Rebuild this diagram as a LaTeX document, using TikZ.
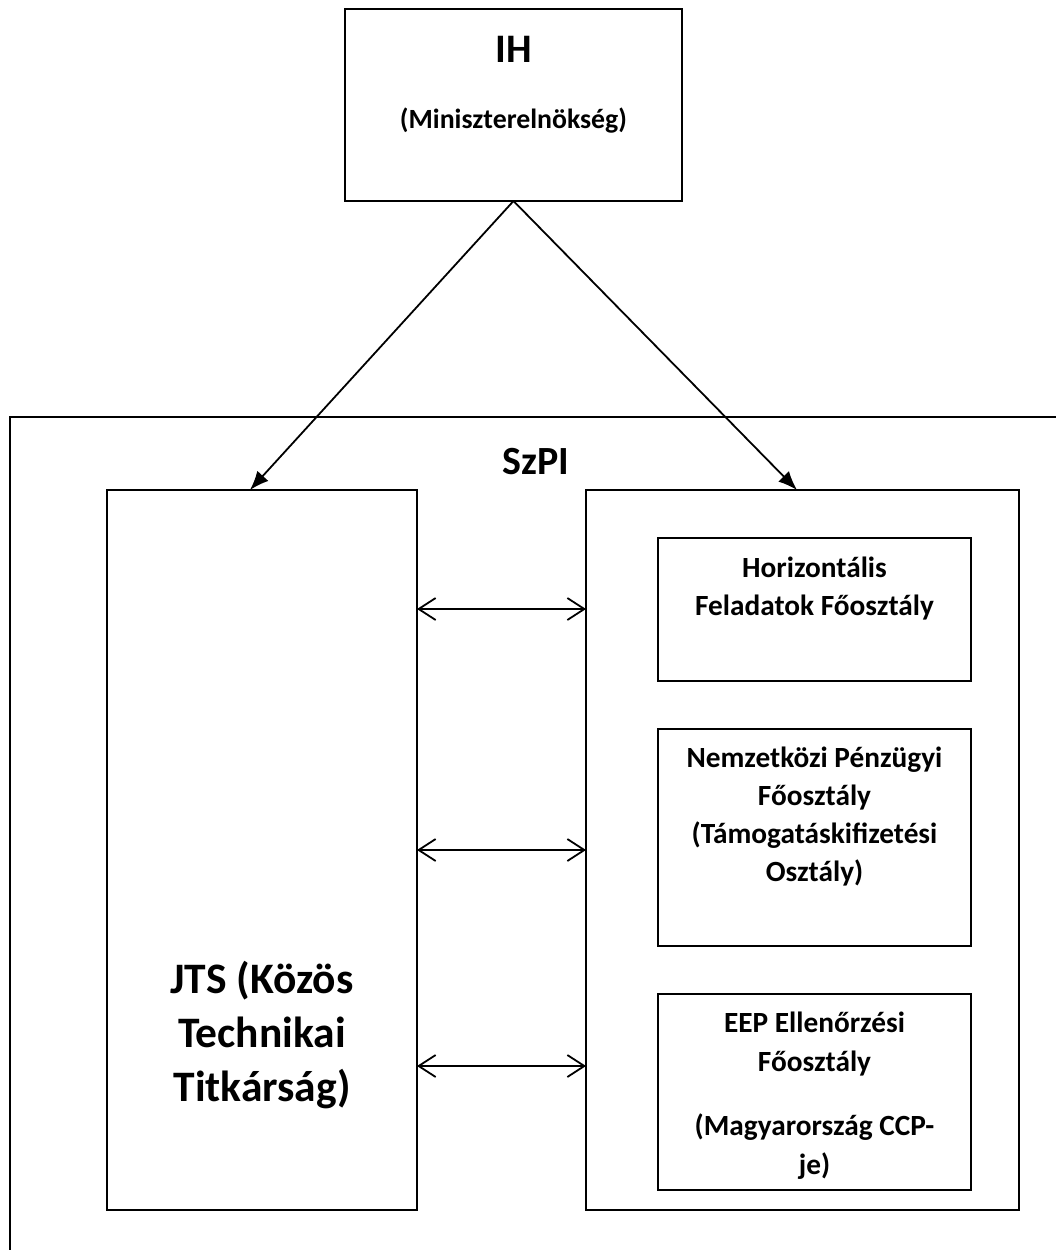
\documentclass[tikz,border=0pt]{standalone}
\usepackage{fontspec}
\setmainfont{Carlito}
\usetikzlibrary{arrows.meta,positioning}

\tikzset{
	box/.style={draw, line width=1.8pt, inner sep=0pt, outer sep=0pt},
	lbl/.style={anchor=base, align=center, font=\bfseries\fontsize{29.3}{38}\selectfont},
	down/.style={line width=1.8pt, -{Latex[length=19pt, width=15pt]}},
	both/.style={line width=1.8pt, {Straight Barb[length=17pt, width=22pt, line width=1.8pt]}-{Straight Barb[length=17pt, width=22pt, line width=1.8pt]}}
}

\begin{document}
\begin{tikzpicture}[x=1pt, y=-1pt]
	\useasboundingbox[fill=white] (0,0) rectangle (1056,1250);
	% SzPI frame, open to the right and bottom
	\draw[line width=1.8pt] (10,1270) -- (10,417) -- (1080,417);
	\node[lbl, font=\bfseries\fontsize{40}{48}\selectfont] (SzPI) at (536,474) {SzPI};

	\node[box, minimum width=337pt, minimum height=192pt] (IH) at (513.5,105) {};
	\node[lbl, font=\bfseries\fontsize{40.5}{50}\selectfont] (IHname) at (513.5,62) {IH};
	\node[lbl, font=\bfseries\fontsize{27.8}{38}\selectfont] (IHsub) at (513.5,128) {(Miniszterelnökség)};

	\node[box, minimum width=310pt, minimum height=720pt] (JTS) at (262,850) {};
	\node[lbl, font=\bfseries\fontsize{43.5}{54}\selectfont] (JTStext) at (262,1101) {JTS (Közös\\Technikai\\Titkárság)};

	\node[box, minimum width=433pt, minimum height=720pt] (FO) at (802.5,850) {};
	\node[box, minimum width=313pt, minimum height=143pt] (HF) at (814.5,609.5) {};
	\node[box, minimum width=313pt, minimum height=217pt] (NP) at (814.5,837.5) {};
	\node[box, minimum width=313pt, minimum height=196pt] (EEP) at (814.5,1092) {};

	% the base of these labels is the baseline of their last line
	\node[lbl] (HFtext) at (814.5,615) {Horizontális\\Feladatok Főosztály};
	\node[lbl, font=\bfseries\fontsize{29.3}{37.7}\selectfont] (NPtext) at (814.5,881) {Nemzetközi Pénzügyi\\Főosztály\\(Támogatáskifizetési\\Osztály)};
	\node[lbl, font=\bfseries\fontsize{29.3}{39}\selectfont] (EEPtext) at (814.5,1174) {EEP Ellenőrzési\\Főosztály\\[25pt](Magyarország CCP-\\je)};

	\draw[down] (IH.south) -- ([xshift=-12pt]JTS.north);
	\draw[down] (IH.south) -- ([xshift=-5.5pt]FO.north);
	\foreach \y in {609,850,1066}
		\draw[both] (JTS.east |- 0,\y) -- (FO.west |- 0,\y);
\end{tikzpicture}
\end{document}
